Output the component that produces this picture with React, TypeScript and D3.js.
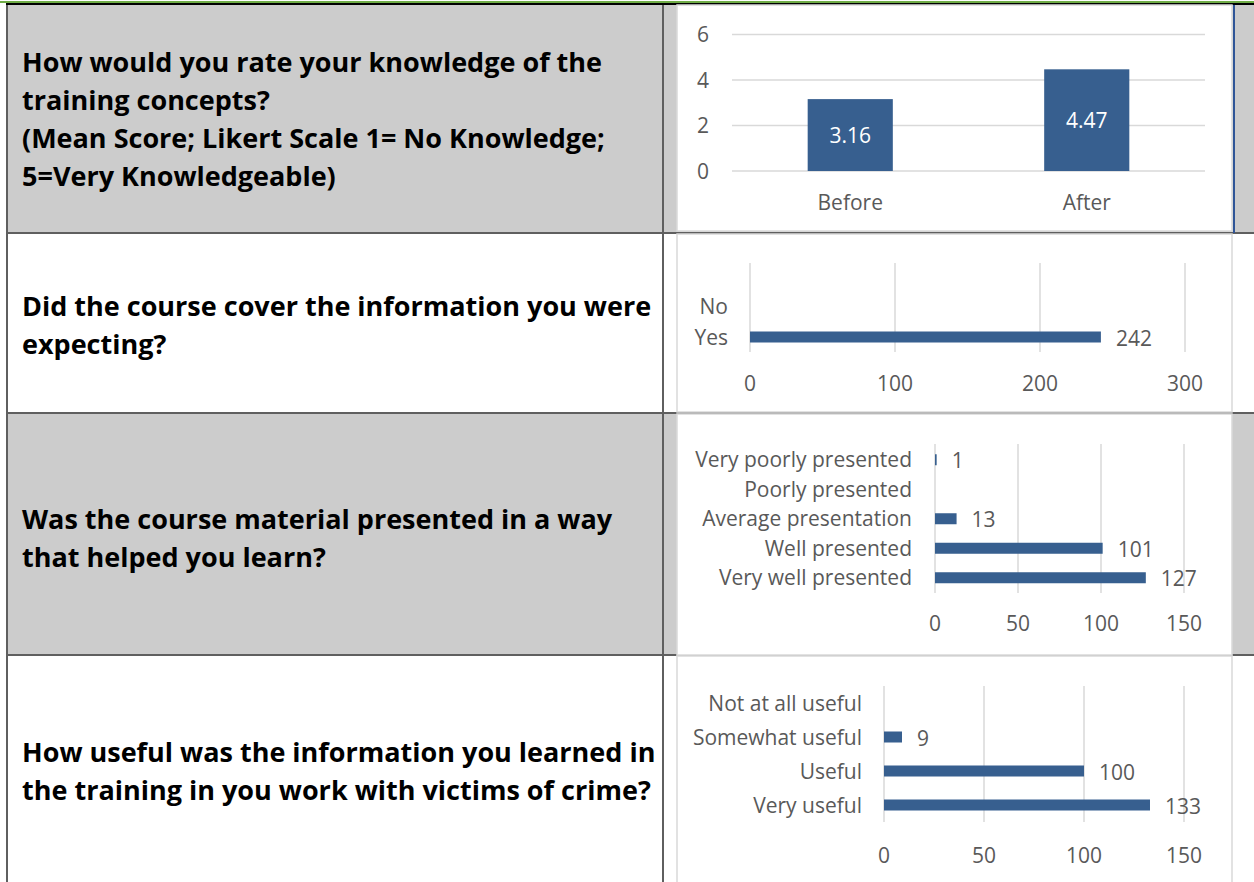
import React, { useEffect, useRef } from 'react'
import * as d3 from 'd3'

// question text, one entry per row, split into lines like the source document
const questionLines = [
  ["How would you rate your knowledge of the", "training concepts?", "(Mean Score; Likert Scale 1= No Knowledge;", "5=Very Knowledgeable)"],
  ["Did the course cover the information you were", "expecting?"],
  ["Was the course material presented in a way", "that helped you learn?"],
  ["How useful was the information you learned in", "the training in you work with victims of crime?"],
]

const knowledgeCats = ["Before", "After"]
const knowledgeVals = [3.16, 4.47]
const knowledgeTicks = [0, 2, 4, 6]

const expectCats = ["No", "Yes"]
const expectVals = [null, 242]
const expectTicks = [0, 100, 200, 300]

const presentCats = ["Very poorly presented", "Poorly presented", "Average presentation", "Well presented", "Very well presented"]
const presentVals = [1, null, 13, 101, 127]
const presentTicks = [0, 50, 100, 150]

const usefulCats = ["Not at all useful", "Somewhat useful", "Useful", "Very useful"]
const usefulVals = [null, 9, 100, 133]
const usefulTicks = [0, 50, 100, 150]

const BAR = "#375f8f"
const GRID = "#d9d9d9"
const TXT = "#595959"
const ROWGRAY = "#cccccc"
const BORDER = "#5f5f5f"
const FONT = "'Open Sans', Lato, sans-serif"
const FS = 21

function drawHBar(g, cats, vals, ticks, o) {
  const x = d3.scaleLinear().domain([0, ticks[ticks.length - 1]]).range([o.x0, o.x1])
  const y = d3.scaleBand().domain(cats).range([o.bandTop, o.bandBottom])
  const barH = 11

  g.selectAll("line.grid").data(ticks).join("line")
    .attr("class", "grid")
    .attr("x1", d => x(d)).attr("x2", d => x(d))
    .attr("y1", o.gridTop).attr("y2", o.gridBottom)
    .attr("stroke", GRID).attr("stroke-width", 1.5)

  g.selectAll("text.tick").data(ticks).join("text")
    .attr("class", "tick")
    .attr("x", d => x(d)).attr("y", o.tickY + 7.5)
    .attr("text-anchor", "middle")
    .attr("font-family", FONT).attr("font-size", FS).attr("fill", TXT)
    .text(d => d)

  g.selectAll("text.cat").data(cats).join("text")
    .attr("class", "cat")
    .attr("x", o.labelX).attr("y", d => y(d) + y.bandwidth() / 2 + 7.5)
    .attr("text-anchor", "end")
    .attr("font-family", FONT).attr("font-size", FS).attr("fill", TXT)
    .text(d => d)

  const rows = cats.map((c, i) => ({ c, v: vals[i] })).filter(d => d.v != null)

  g.selectAll("rect.bar").data(rows).join("rect")
    .attr("class", "bar")
    .attr("x", x(0)).attr("y", d => y(d.c) + y.bandwidth() / 2 - barH / 2)
    .attr("width", d => x(d.v) - x(0)).attr("height", barH)
    .attr("fill", BAR)

  g.selectAll("text.val").data(rows).join("text")
    .attr("class", "val")
    .attr("x", d => x(d.v) + 15).attr("y", d => y(d.c) + y.bandwidth() / 2 + 8.5)
    .attr("font-family", FONT).attr("font-size", FS).attr("fill", TXT)
    .text(d => d.v)
}

function drawChart(el) {
  const svg = d3.select(el)
  svg.selectAll("*").remove()

  // table rows: [top, bottom, gray?]
  const rows = [[5, 233, true], [233, 413, false], [413, 655, true], [655, 882, false]]
  rows.forEach(([t, b, gray]) => {
    svg.append("rect").attr("x", 7).attr("y", t).attr("width", 1247).attr("height", b - t)
      .attr("fill", gray ? ROWGRAY : "#fff")
  })
  // row borders
  rows.slice(1).forEach(([t]) => {
    svg.append("rect").attr("x", 6).attr("y", t - 1).attr("width", 1248).attr("height", 2).attr("fill", BORDER)
  })
  svg.append("rect").attr("x", 6).attr("y", 3).attr("width", 2).attr("height", 879).attr("fill", BORDER)
  svg.append("rect").attr("x", 662).attr("y", 3).attr("width", 2).attr("height", 879).attr("fill", BORDER)
  svg.append("rect").attr("x", 0).attr("y", 1).attr("width", 1254).attr("height", 2).attr("fill", "#70ad47")
  svg.append("rect").attr("x", 6).attr("y", 3).attr("width", 1248).attr("height", 2).attr("fill", "#000")
  svg.append("rect").attr("x", 1233).attr("y", 5).attr("width", 2).attr("height", 228).attr("fill", "#2f5597")

  // chart panels
  const panels = [[5, 231], [234, 412], [414, 655], [656, 884]]
  panels.forEach(([t, b]) => {
    svg.append("rect").attr("x", 677).attr("y", t).attr("width", 555).attr("height", b - t)
      .attr("fill", "#fff").attr("stroke", "#d9d9d9").attr("stroke-width", 1.5)
  })

  // question text
  const lineCenters = [[62, 100, 138, 176], [306, 344], [519, 557], [752, 790]]
  questionLines.forEach((lines, r) => {
    svg.append("g").selectAll("text").data(lines).join("text")
      .attr("x", 22).attr("y", (d, i) => lineCenters[r][i] + 10)
      .attr("font-family", FONT).attr("font-weight", 700).attr("font-size", 27).attr("fill", "#000")
      .text(d => d)
  })

  // chart 1: vertical bars
  const g1 = svg.append("g")
  const x1 = d3.scaleBand().domain(knowledgeCats).range([732, 1205]).paddingInner(0.64).paddingOuter(0.32)
  const y1 = d3.scaleLinear().domain([0, 6]).range([171, 34.5])
  g1.selectAll("line").data(knowledgeTicks).join("line")
    .attr("x1", 732).attr("x2", 1205).attr("y1", d => y1(d)).attr("y2", d => y1(d))
    .attr("stroke", GRID).attr("stroke-width", 1.5)
  g1.selectAll("text.tick").data(knowledgeTicks).join("text")
    .attr("class", "tick").attr("x", 709).attr("y", d => y1(d) + 7.5)
    .attr("text-anchor", "end").attr("font-family", FONT).attr("font-size", FS).attr("fill", TXT)
    .text(d => d)
  g1.selectAll("rect").data(knowledgeVals).join("rect")
    .attr("x", (d, i) => x1(knowledgeCats[i])).attr("width", x1.bandwidth())
    .attr("y", d => y1(d)).attr("height", d => y1(0) - y1(d)).attr("fill", BAR)
  g1.selectAll("text.val").data(knowledgeVals).join("text")
    .attr("class", "val")
    .attr("x", (d, i) => x1(knowledgeCats[i]) + x1.bandwidth() / 2)
    .attr("y", d => (y1(d) + y1(0)) / 2 + 7.5)
    .attr("text-anchor", "middle").attr("font-family", FONT).attr("font-size", FS).attr("fill", "#fff")
    .text(d => d.toFixed(2))
  g1.selectAll("text.cat").data(knowledgeCats).join("text")
    .attr("class", "cat")
    .attr("x", d => x1(d) + x1.bandwidth() / 2).attr("y", 209.5)
    .attr("text-anchor", "middle").attr("font-family", FONT).attr("font-size", FS).attr("fill", TXT)
    .text(d => d)

  drawHBar(svg.append("g"), expectCats, expectVals, expectTicks,
    { x0: 750, x1: 1185, gridTop: 263, gridBottom: 352, bandTop: 290.5, bandBottom: 352.5, labelX: 728, tickY: 383 })
  drawHBar(svg.append("g"), presentCats, presentVals, presentTicks,
    { x0: 935, x1: 1184, gridTop: 444, gridBottom: 593, bandTop: 445, bandBottom: 592.5, labelX: 912, tickY: 623 })
  drawHBar(svg.append("g"), usefulCats, usefulVals, usefulTicks,
    { x0: 884, x1: 1184, gridTop: 686, gridBottom: 822, bandTop: 686, bandBottom: 822, labelX: 862, tickY: 855 })
}

export default function App() {
  const ref = useRef(null)
  useEffect(() => {
    drawChart(ref.current)
  }, [])
  return (
    <svg ref={ref} width={1254} height={882}
      style={{ position: 'absolute', left: 0, top: 0, background: '#fff' }} />
  )
}
